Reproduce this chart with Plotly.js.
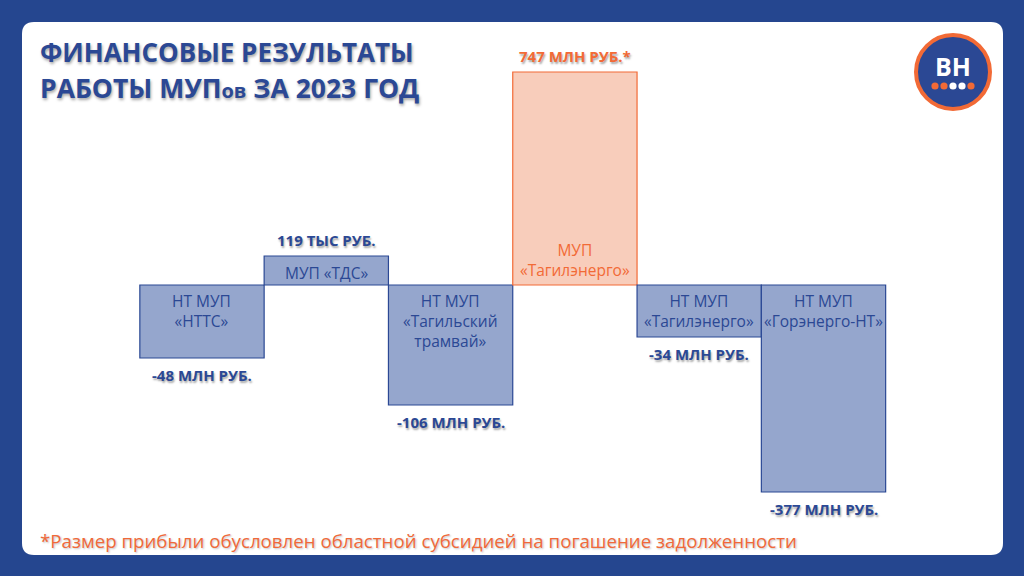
<!DOCTYPE html>
<html><head><meta charset="utf-8">
<script src="https://cdn.plot.ly/plotly-3.0.1.min.js"></script>
<style>html,body{margin:0;padding:0;background:#25468f;}#chart{width:1024px;height:576px;}</style>
</head><body><div id="chart"></div>
<script>
// Companies (bar labels inside bars)
const companies = ['НТ МУП<br>«НТТС»', 'МУП «ТДС»', 'НТ МУП<br>«Тагильский<br>трамвай»', 'МУП<br>«Тагилэнерго»', 'НТ МУП<br>«Тагилэнерго»', 'НТ МУП<br>«Горэнерго-НТ»'];
// Financial results as printed
const resultLabels = ['-48 МЛН РУБ.', '119 ТЫС РУБ.', '-106 МЛН РУБ.', '747 МЛН РУБ.*', '-34 МЛН РУБ.', '-377 МЛН РУБ.'];
// Bar lengths as drawn in the infographic (not to scale with values)
const drawnLengths = [-73, 29, -120, 213, -52, -207];
const isProfitHighlight = [false, false, false, true, false, false];

const W = 1024, H = 576;
const px = x => x / W;
const py = y => 1 - y / H;
const BLUE = '#2b4894', BAR_BLUE = '#95a6cd', ORANGE = '#f26a36', BAR_OR = '#f8cdbb';
const FONT = 'Open Sans, Noto Sans, sans-serif';
const idx = companies.map((_, i) => i);

const trace = {
  type: 'bar', x: idx, y: drawnLengths, width: 1,
  marker: {
    color: isProfitHighlight.map(h => h ? BAR_OR : BAR_BLUE),
    line: {color: isProfitHighlight.map(h => h ? ORANGE : BLUE), width: 1.2}
  },
  hoverinfo: 'skip'
};

const annotations = [];
idx.forEach(i => {
  const v = drawnLengths[i];
  const hl = isProfitHighlight[i];
  annotations.push({
    x: i, y: v < 0 ? 0 : (hl ? 0 : v), xref: 'x', yref: 'y',
    yanchor: v < 0 ? 'top' : (hl ? 'bottom' : 'top'),
    yshift: v < 0 ? -3 : (hl ? 2 : -4),
    text: companies[i], showarrow: false,
    font: {family: FONT, size: 15.5, color: hl ? ORANGE : BLUE},
    align: 'center'
  });
  annotations.push({
    x: i, y: v, xref: 'x', yref: 'y',
    yanchor: v < 0 ? 'top' : 'bottom', yshift: v < 0 ? -5 : 4,
    text: '<b>' + resultLabels[i] + '</b>', showarrow: false,
    font: {family: FONT, size: 15, color: hl ? ORANGE : BLUE, shadow: '1px 2px 2px rgba(0,0,0,0.35)'}
  });
});

// Title
annotations.push({xref: 'paper', yref: 'paper', x: px(38), y: py(52), xanchor: 'left', yanchor: 'middle',
  text: '<b>ФИНАНСОВЫЕ РЕЗУЛЬТАТЫ</b>', showarrow: false,
  font: {family: FONT, size: 26, color: BLUE, shadow: '1px 2px 3px rgba(0,0,0,0.35)'}});
annotations.push({xref: 'paper', yref: 'paper', x: px(38), y: py(88), xanchor: 'left', yanchor: 'middle',
  text: '<b>РАБОТЫ МУП<span style="font-size:20px">ов</span> ЗА 2023 ГОД</b>', showarrow: false,
  font: {family: FONT, size: 26.5, color: BLUE, shadow: '1px 2px 3px rgba(0,0,0,0.35)'}});
// Footnote
annotations.push({xref: 'paper', yref: 'paper', x: px(38), y: py(540), xanchor: 'left', yanchor: 'middle',
  text: '*Размер прибыли обусловлен областной субсидией на погашение задолженности', showarrow: false,
  font: {family: FONT, size: 18.7, color: '#f0693a', shadow: '1px 1px 2px rgba(0,0,0,0.25)'}});
// Logo text
annotations.push({xref: 'paper', yref: 'paper', x: px(953), y: py(66), xanchor: 'center', yanchor: 'middle',
  text: '<b>BH</b>', showarrow: false, font: {family: FONT, size: 25, color: '#ffffff'}});

// Panel with rounded corners
const r = 12, L = 22, T = 22, R = 1003, B = 555;
const panelPath = `M ${px(L+r)},${py(T)} L ${px(R-r)},${py(T)} Q ${px(R)},${py(T)} ${px(R)},${py(T+r)} ` +
  `L ${px(R)},${py(B-r)} Q ${px(R)},${py(B)} ${px(R-r)},${py(B)} L ${px(L+r)},${py(B)} ` +
  `Q ${px(L)},${py(B)} ${px(L)},${py(B-r)} L ${px(L)},${py(T+r)} Q ${px(L)},${py(T)} ${px(L+r)},${py(T)} Z`;
const shapes = [
  {type: 'path', xref: 'paper', yref: 'paper', path: panelPath, fillcolor: '#ffffff', line: {width: 0}, layer: 'below'},
  {type: 'circle', xref: 'paper', yref: 'paper', x0: px(953-37), x1: px(953+37), y0: py(72+37), y1: py(72-37),
   fillcolor: BLUE, line: {color: ORANGE, width: 4}, layer: 'above'}
];
const dotColors = [ORANGE, ORANGE, '#ffffff', '#ffffff', ORANGE];
dotColors.forEach((c, k) => {
  const cx = 935 + k * 9, cy = 86, rr = 3.6;
  shapes.push({type: 'circle', xref: 'paper', yref: 'paper', x0: px(cx-rr), x1: px(cx+rr), y0: py(cy+rr), y1: py(cy-rr),
    fillcolor: c, line: {width: 0}, layer: 'above'});
});

const layout = {
  width: W, height: H,
  margin: {l: 0, r: 0, t: 0, b: 0},
  paper_bgcolor: '#25468f', plot_bgcolor: 'rgba(0,0,0,0)',
  xaxis: {range: [-1.625, 6.613], visible: false, fixedrange: true},
  yaxis: {range: [-(H - 285), 285], visible: false, fixedrange: true},
  showlegend: false, bargap: 0,
  annotations, shapes
};
Plotly.newPlot('chart', [trace], layout, {displayModeBar: false, staticPlot: true});
</script></body></html>
